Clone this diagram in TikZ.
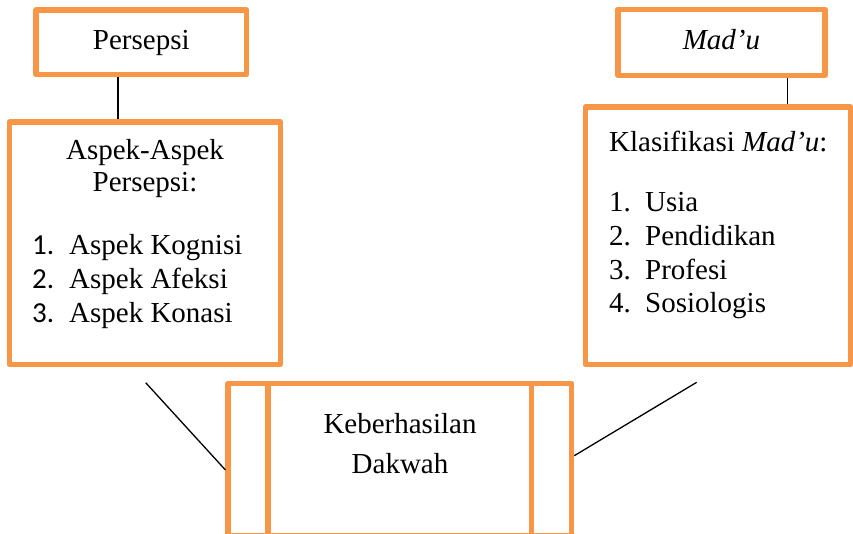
\documentclass[tikz,border=0pt]{standalone}
\usepackage{fontspec}
\setmainfont{Liberation Serif}
\newfontfamily\angka{Carlito}
\definecolor{oranye}{HTML}{F79646}
\tikzset{
  kotak/.style={draw=oranye, line width=5.5pt, line join=round, rectangle, inner sep=0pt},
  garis/.style={black, line width=1.3pt},
  teks/.style={inner sep=0pt, font=\fontsize{29}{33.5}\selectfont},
}
\begin{document}
\begin{tikzpicture}[x=1pt, y=-1pt]
  \useasboundingbox (0,0) rectangle (853,534);
  \clip (0,0) rectangle (853,534);

  \node[kotak, teks, minimum width=210.5pt, minimum height=64.5pt, text height=20pt, text depth=6pt] (B1) at (141.3,42.3) {Persepsi};
  \node[kotak, minimum width=271pt, minimum height=242.5pt] (B2) at (145,243.3) {};
  \node[kotak, teks, minimum width=207pt, minimum height=66pt, text height=20pt, text depth=6pt] (B3) at (721.4,42.4) {\textit{Mad’u}};
  \node[kotak, minimum width=265pt, minimum height=257.5pt] (B4) at (718,235.75) {};
  \node[kotak, minimum width=343.3pt, minimum height=152.7pt] (B5) at (399.85,459.65) {};
  \draw[kotak] ([xshift=42.6pt]B5.north west) -- ([xshift=42.6pt]B5.south west);
  \draw[kotak] ([xshift=-42.6pt]B5.north east) -- ([xshift=-42.6pt]B5.south east);

  % base = baseline of the last line
  \node[teks, anchor=base, align=center] (T1) at (145,192) {Aspek-Aspek\\[-1.5pt]Persepsi:};
  \node[teks, anchor=base west, align=left] (T2) at (32,322) {\makebox[37pt][l]{\angka 1.}Aspek Kognisi\\
    \makebox[37pt][l]{\angka 2.}Aspek Afeksi\\
    \makebox[37pt][l]{\angka 3.}Aspek Konasi};
  \node[teks, anchor=base west] (T3) at (609,152) {Klasifikasi \textit{Mad’u}:};
  \node[teks, anchor=base west, align=left] (T4) at (609,312.5) {\makebox[36pt][l]{1.}Usia\\
    \makebox[36pt][l]{2.}Pendidikan\\
    \makebox[36pt][l]{3.}Profesi\\
    \makebox[36pt][l]{4.}Sosiologis};
  \node[teks, anchor=base, align=center] (T5) at (400,473.3) {Keberhasilan\\[6.5pt]Dakwah};

  \coordinate (C1) at (145.7,382.7);
  \coordinate (C2) at (696.7,382.3);
  \draw[garis] (B1.south -| 118,0) -- (B2.north -| 118,0);
  \draw[garis] (B3.south -| 787.7,0) -- (B4.north -| 787.7,0);
  \draw[garis] (C1) -- (B5.west |- 0,470);
  \draw[garis] (B5.east |- 0,455.7) -- (C2);
\end{tikzpicture}
\end{document}
